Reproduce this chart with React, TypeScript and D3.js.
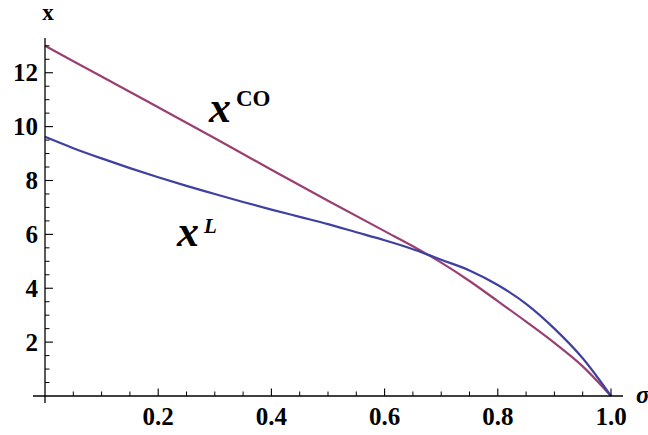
import React from "react";
import * as d3 from "d3";

const sigma = [0, 0.05, 0.1, 0.15, 0.2, 0.25, 0.3, 0.35, 0.4, 0.45, 0.5, 0.55, 0.6, 0.65, 0.68, 0.7, 0.75, 0.8, 0.85, 0.9, 0.95, 1.0];
const xL = [9.62, 9.2, 8.82, 8.46, 8.12, 7.8, 7.5, 7.2, 6.92, 6.65, 6.38, 6.08, 5.78, 5.45, 5.22, 5.06, 4.66, 4.12, 3.42, 2.5, 1.4, 0];
const sigmaCO = [0, 0.1, 0.2, 0.3, 0.4, 0.5, 0.6, 0.65, 0.68, 0.7, 0.75, 0.8, 0.85, 0.9, 0.95, 1.0];
const xCO = [13.0, 11.86, 10.72, 9.57, 8.4, 7.25, 6.12, 5.56, 5.2, 4.95, 4.27, 3.52, 2.76, 1.97, 1.1, 0];

const xMajor = [0.2, 0.4, 0.6, 0.8, 1.0];
const xMajorLabels = ["0.2", "0.4", "0.6", "0.8", "1.0"];
const yMajor = [2, 4, 6, 8, 10, 12];
const yMajorLabels = ["2", "4", "6", "8", "10", "12"];

const W = 648;
const H = 435;
const BLUE = "#4040a0";
const PURPLE = "#9a3f72";
const FONT = "'Liberation Serif', 'Times New Roman', serif";

export default function App() {
  const x = d3.scaleLinear().domain([0, 1]).range([45, 611]);
  const y = d3.scaleLinear().domain([0, 13]).range([396, 45.8]);

  const xMinor = d3.range(1, 21).map((i) => i * 0.05).filter((v) => !xMajor.some((m) => Math.abs(m - v) < 1e-6));
  const yMinor = d3.range(1, 27).map((i) => i * 0.5).filter((v) => !yMajor.some((m) => Math.abs(m - v) < 1e-6));

  const line = d3
    .line<[number, number]>()
    .x((d) => x(d[0]))
    .y((d) => y(d[1]))
    .curve(d3.curveMonotoneX);

  const blueD = line(sigma.map((s, i) => [s, xL[i]] as [number, number])) || "";
  const purpleD = line(sigmaCO.map((s, i) => [s, xCO[i]] as [number, number])) || "";

  const x0 = x(0);
  const y0 = y(0);

  return (
    <svg width={W} height={H} style={{ position: "absolute", left: 0, top: 0, background: "#fff", fontFamily: FONT }}>
      <rect x={0} y={0} width={W} height={H} fill="#fff" />
      <path d={purpleD} fill="none" stroke={PURPLE} strokeWidth={2.2} />
      <path d={blueD} fill="none" stroke={BLUE} strokeWidth={2.2} />

      <line x1={33} x2={623} y1={y0} y2={y0} stroke="#000" strokeWidth={1.3} />
      <line x1={x0} x2={x0} y1={403} y2={38} stroke="#000" strokeWidth={1.3} />

      {xMinor.map((v, i) => (
        <line key={"xm" + i} x1={x(v)} x2={x(v)} y1={y0} y2={y0 - 4.5} stroke="#000" strokeWidth={1} />
      ))}
      {xMajor.map((v, i) => (
        <line key={"xM" + i} x1={x(v)} x2={x(v)} y1={y0} y2={y0 - 7.5} stroke="#000" strokeWidth={1.1} />
      ))}
      {yMinor.map((v, i) => (
        <line key={"ym" + i} x1={x0} x2={x0 + 4.5} y1={y(v)} y2={y(v)} stroke="#000" strokeWidth={1} />
      ))}
      {yMajor.map((v, i) => (
        <line key={"yM" + i} x1={x0} x2={x0 + 8} y1={y(v)} y2={y(v)} stroke="#000" strokeWidth={1.1} />
      ))}

      {xMajor.map((v, i) => (
        <text key={"xl" + i} x={x(v)} y={425} textAnchor="middle" fontFamily={FONT} fontWeight="bold" fontSize={25}>
          {xMajorLabels[i]}
        </text>
      ))}
      {yMajor.map((v, i) => (
        <text key={"yl" + i} x={38} y={y(v) + 8.5} textAnchor="end" fontFamily={FONT} fontWeight="bold" fontSize={25}>
          {yMajorLabels[i]}
        </text>
      ))}

      <text x={48} y={20} textAnchor="middle" fontFamily={FONT} fontWeight="bold" fontSize={23}>
        x
      </text>
      <text x={636} y={403} fontFamily={FONT} fontStyle="italic" fontWeight="bold" fontSize={25}>
        σ
      </text>

      <text x={209} y={122} fontFamily={FONT} fontStyle="italic" fontWeight="bold" fontSize={44}>
        x
      </text>
      <text x={236} y={106} fontFamily={FONT} fontWeight="bold" fontSize={23}>
        CO
      </text>
      <text x={177} y={246} fontFamily={FONT} fontStyle="italic" fontWeight="bold" fontSize={44}>
        x
      </text>
      <text x={204} y={233} fontFamily={FONT} fontStyle="italic" fontWeight="bold" fontSize={21}>
        L
      </text>
    </svg>
  );
}
